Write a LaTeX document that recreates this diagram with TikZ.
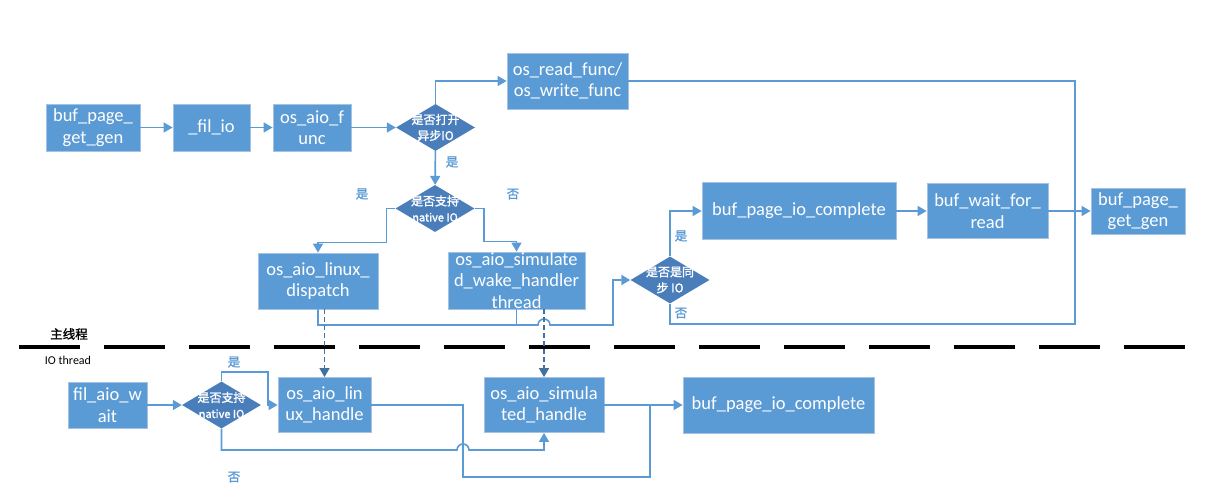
\documentclass[tikz,border=0pt]{standalone}
\usepackage{fontspec}
\setmainfont{Carlito}
\newfontfamily\cjk{Noto Sans CJK SC}
\newfontfamily\cjkb[FakeBold=1.6]{Noto Sans CJK SC}
\usetikzlibrary{arrows.meta,positioning,shapes.geometric}
\definecolor{boxblue}{HTML}{5B9BD5}
\definecolor{boxedge}{HTML}{A4C2E4}
\definecolor{diablue}{HTML}{4A7EBB}
\definecolor{lineblue}{HTML}{5B9BD5}
\definecolor{dashblue}{HTML}{41719C}
\tikzset{box/.style={draw=boxedge,fill=boxblue,line width=0.8pt,text=white,align=center,inner sep=1pt,font=\fontsize{18.5}{21.5}\selectfont},
  btxt/.style={text=white,align=center,inner sep=0pt,font=\fontsize{18.5}{21.5}\selectfont},
  dia/.style={diamond,fill=diablue,minimum width=79pt,minimum height=47pt,inner sep=0pt},
  dtxt/.style={text=white,align=center,inner sep=0pt,font=\cjkb\fontsize{12}{16}\selectfont},
  lbl/.style={text=lineblue,font=\cjkb\fontsize{12.5}{14}\selectfont},
  line/.style={draw=lineblue,line width=1.6pt},
  arr/.style={line,-{Triangle[length=9pt,width=10pt]}},
  darr/.style={draw=dashblue,line width=1.5pt,dash pattern=on 5pt off 3pt,-{Triangle[length=9pt,width=10pt]}},
  sepline/.style={draw=black,line width=3.5pt,dash pattern=on 61pt off 24pt}}
\begin{document}
\begin{tikzpicture}[x=1pt,y=-1pt]
\useasboundingbox (0,0) rectangle (1230,495);
% main thread
\node[box,minimum width=94pt,minimum height=47pt] (bg1) at (93,127.5){buf\_page\_\\get\_gen};
\node[box,minimum width=77pt,minimum height=47pt] (fio) at (211.5,127.5){\_fil\_io};
\node[box,minimum width=78pt,minimum height=47pt] (oaf) at (312,127.5){os\_aio\_f\\unc};
\node[dia,label={[dtxt]center:是否打开\\异步IO}] (d1) at (435.5,127.5){};
\node[box,minimum width=121pt,minimum height=56pt] (rw) at (567.5,81){os\_read\_func/\\os\_write\_func};
\node[dia,label={[dtxt]center:是否支持\\{\fontsize{11}{14}\selectfont native IO}}] (d2) at (435,208.5){};
\node[box,minimum width=120pt,minimum height=56pt] (dsp) at (318,281){os\_aio\_linux\_\\dispatch};
\node[box,minimum width=137pt,minimum height=57pt,label={[btxt]center:os\_aio\_simulate\\d\_wake\_handler\\thread}] (wk) at (516.5,280.5){};
\node[dia,label={[dtxt]center:是否是同\\步 IO}] (d3) at (670,280){};
\node[box,minimum width=194pt,minimum height=57pt] (pc1) at (799,211){buf\_page\_io\_complete};
\node[box,minimum width=121pt,minimum height=55pt] (wr) at (987.5,211){buf\_wait\_for\_\\read};
\node[box,minimum width=94pt,minimum height=46pt] (bg2) at (1138,211){buf\_page\_\\get\_gen};
\node[lbl] (y1) at (452,162){是}; \node[lbl] (y2) at (362,194){是}; \node[lbl] (n2) at (513,194){否};
\node[lbl] (y3) at (681,236){是}; \node[lbl] (n3) at (681,313){否};
\draw[arr] (bg1)--(fio); \draw[arr] (fio)--(oaf); \draw[arr] (oaf)--(d1);
\draw[arr] (d1.north) |- (rw.west); \draw[arr] (d1)--(d2);
\draw[arr] (d2.west) -- ++(-9,0) |- ([yshift=10pt]dsp.north) -- (dsp.north);
\draw[arr] (d2.east) -- ++(9,0) |- ([yshift=10pt]wk.north) -- (wk.north);
\draw[arr] (d3.north) |- (pc1.west); \draw[arr] (pc1)--(wr); \draw[arr] (wr)--(bg2);
\coordinate (mj) at (1075,211); \coordinate (nb) at (1075,324);
\draw[line] (rw.east) -| (mj); \draw[line] (d3.south) |- (nb) -- (mj);
\coordinate (hl) at (538,325); \coordinate (jd) at (613,325);
\draw[arr] (dsp.south) |- (hl) arc[start angle=180,end angle=0,radius=6pt] -- (jd) |- (d3.west);
\draw[line] (wk.south) -- (wk.south |- hl);
% thread border
\draw[sepline] (19,347) -- (1185,347);
\node[font=\cjkb\fontsize{12.5}{14}\selectfont] (mt) at (69,334){主线程};
\node[font=\fontsize{12}{14}\selectfont] (iot) at (68,360){IO thread};
% IO thread
\node[box,minimum width=79pt,minimum height=46pt] (fw) at (107.5,405){fil\_aio\_w\\ait};
\node[dia,label={[dtxt]center:是否支持\\{\fontsize{11}{14}\selectfont native IO}}] (d4) at (221.5,405){};
\node[box,minimum width=93pt,minimum height=55pt] (lh) at (324.5,405){os\_aio\_lin\\ux\_handle};
\node[box,minimum width=120pt,minimum height=55pt] (sh) at (544,405){os\_aio\_simula\\ted\_handle};
\node[box,minimum width=191pt,minimum height=56pt] (pc2) at (778.5,405){buf\_page\_io\_complete};
\node[lbl] (y4) at (234,362){是}; \node[lbl] (n4) at (234,477){否};
\draw[darr] (lh.north |- dsp.south) -- (lh.north);
\draw[darr] (sh.north |- wk.south) -- (sh.north);
\draw[arr] (fw)--(d4);
\coordinate (yb) at (268,372);
\draw[arr] (d4.north) |- (yb) |- (lh.west);
\coordinate (hb) at (457,450);
\draw[arr] (d4.south) |- (hb) arc[start angle=180,end angle=0,radius=6pt] -| (sh.south);
\coordinate (lb) at (463,477); \coordinate (bj) at (650,405);
\draw[line] (lh.east) -| (lb) -| (bj);
\draw[arr] (sh)--(pc2);
\end{tikzpicture}
\end{document}
